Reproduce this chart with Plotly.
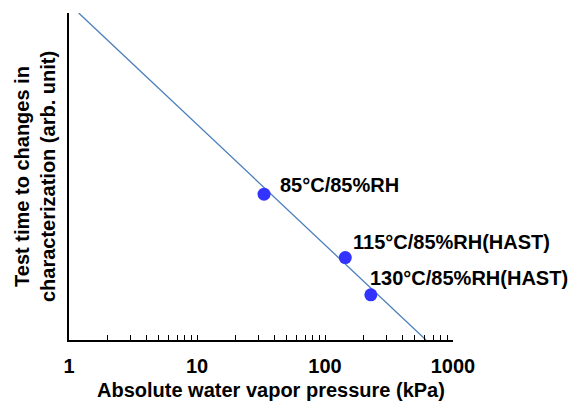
import math
import plotly.graph_objects as go

# Data
line_x = [1.19, 615]
line_y = [1.0, 0.0]
point_x = [33.4, 144, 228]
point_y = [0.446, 0.252, 0.138]
point_labels = ["85°C/85%RH", "115°C/85%RH(HAST)", "130°C/85%RH(HAST)"]
tick_vals = [1, 10, 100, 1000]
tick_text = ["1", "10", "100", "1000"]
x_title = "Absolute water vapor pressure (kPa)"
y_title = "Test time to changes in<br>characterization (arb. unit)"

FONT = "Arial, 'Liberation Sans', Helvetica, sans-serif"

fig = go.Figure()
fig.add_trace(go.Scatter(x=line_x, y=line_y, mode="lines",
                         line=dict(color="#4a7ebb", width=1.3), hoverinfo="skip"))
fig.add_trace(go.Scatter(x=point_x, y=point_y, mode="markers",
                         marker=dict(color="#3333ff", size=13)))

shifts = [(14, 9), (6, 16), (-3, 17)]
for x, y, t, (dx, dy) in zip(point_x, point_y, point_labels, shifts):
    fig.add_annotation(x=math.log10(x), y=y, xref="x", yref="y", text=t, showarrow=False,
                       xanchor="left", yanchor="middle", xshift=dx, yshift=dy,
                       font=dict(family=FONT, size=20, color="black", weight="bold"))

# x-axis title (slightly right of centre, as in the reference)
fig.add_annotation(x=0.5, y=0, xref="paper", yref="paper", text=x_title, showarrow=False,
                   xanchor="center", yanchor="middle", xshift=10, yshift=-50,
                   font=dict(family=FONT, size=20, color="black", weight="bold"))

fig.update_layout(
    width=576, height=397,
    margin=dict(l=61, r=131, t=5, b=65),
    paper_bgcolor="white", plot_bgcolor="white",
    showlegend=False,
    font=dict(family=FONT, color="black"),
)
fig.update_xaxes(
    type="log", range=[0, 3], tickvals=tick_vals, ticktext=tick_text,
    showline=True, linecolor="black", linewidth=2, showgrid=False, zeroline=False,
    ticks="inside", ticklen=5, tickcolor="black", tickwidth=1,
    minor=dict(ticks="inside", ticklen=5, tickcolor="black", tickwidth=1, dtick="D1", showgrid=False),
    tickfont=dict(family=FONT, size=20, weight="bold"),
    ticklabelstandoff=7,
    automargin=False,
)
fig.update_yaxes(
    range=[0, 1], showline=True, linecolor="black", linewidth=1.5,
    showgrid=False, zeroline=False, showticklabels=False, ticks="",
    title=dict(text=y_title, font=dict(family=FONT, size=20, weight="bold"), standoff=6),
    automargin=False,
)
fig.write_html("out.html")
